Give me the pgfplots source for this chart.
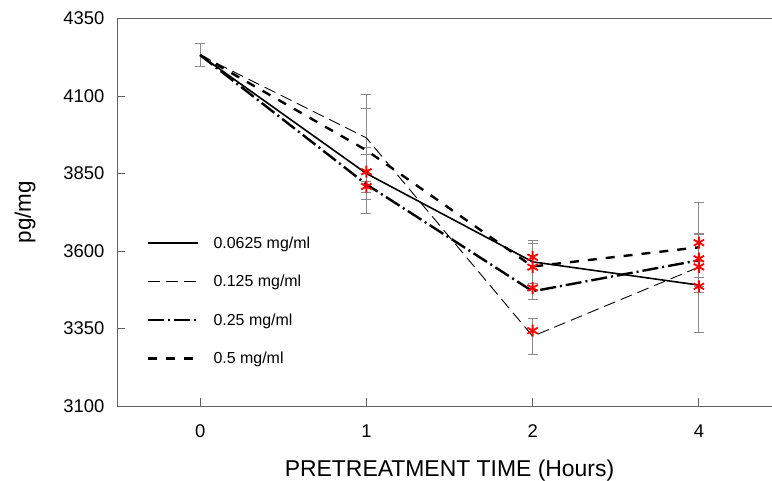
\documentclass[border=0pt]{standalone}
\usepackage{pgfplots}
\pgfplotsset{compat=1.18}
\usepackage{pgfplotstable}
\usepackage{fontspec}
\setmainfont{Liberation Sans}
\definecolor{spine}{HTML}{606060}
\definecolor{ebar}{HTML}{8A8A8A}

% x: 0,1,2,3 -> times 0,1,2,4 h
\pgfplotstableread{
x y e
0 4232 37
1 3850 83
2 3565 70
3 3490 25
}\sA
\pgfplotstableread{
x y e
0 4232 37
1 3965 139
2 3325 57
3 3548 210
}\sB
\pgfplotstableread{
x y e
0 4232 37
1 3815 95
2 3470 27
3 3570 84
}\sC
\pgfplotstableread{
x y e
0 4232 37
1 3925 136
2 3550 75
3 3612 45
}\sD
\pgfplotstableread{
x y
1 3856
1 3808
2 3580
2 3548
2 3481
2 3343
3 3627
3 3575
3 3549
3 3486
}\stars

\pgfplotsset{ebstyle/.style={forget plot, ebar, solid, line width=0.8pt, draw opacity=0,
  error bars/.cd, y dir=both, y explicit,
  error bar style={draw=ebar, draw opacity=1, solid, line width=0.8pt},
  error mark options={rotate=90, draw=ebar, draw opacity=1, solid, line width=0.8pt, mark size=5bp}}}

\begin{document}
\begin{tikzpicture}
\useasboundingbox (0,0) rectangle (772bp,481bp);
\clip (0,0) rectangle (772bp,481bp);
\begin{axis}[
  at={(117bp,75bp)}, anchor=south west,
  scale only axis, width=665bp, height=387.5bp,
  xmin=-0.5, xmax=3.5, ymin=3100, ymax=4350,
  xtick={0,1,2,3}, xticklabels={0,1,2,4},
  ytick={3100,3350,3600,3850,4100,4350},
  xtick pos=bottom, ytick pos=left,
  tick align=inside,
  major tick length=8bp,
  axis line style={spine, line width=0.9pt},
  tick style={spine, line width=0.9pt},
  /pgf/number format/assume math mode=true,
  /pgf/number format/1000 sep={},
  ticklabel style={font=\fontsize{18.5}{20}\selectfont},
  yticklabel style={xshift=-9bp},
  xticklabel style={yshift=-15bp},
  xlabel={PRETREATMENT TIME (Hours)},
  ylabel={pg/mg},
  xlabel style={font=\fontsize{23}{26}\selectfont, at={(rel axis cs:0.5,0)}, anchor=base, yshift=-70bp},
  ylabel style={font=\fontsize{22.5}{26}\selectfont, at={(rel axis cs:-0.1383,0.5)}, anchor=center},
  legend cell align=left,
  legend style={draw=none, fill=none, at={(rel axis cs:0.0451,0.443)}, anchor=north west,
    font=\fontsize{16}{18}\selectfont, row sep=21.5bp, inner sep=0pt,
    /tikz/every odd column/.append style={column sep=12bp}},
  legend image code/.code={\draw[#1] (0bp,0bp) -- (50bp,0bp);},
]
% error bars
\addplot[ebstyle] table[x=x, y=y, y error=e] {\sA};
\addplot[ebstyle] table[x=x, y=y, y error=e] {\sB};
\addplot[ebstyle] table[x=x, y=y, y error=e] {\sC};
\addplot[ebstyle] table[x=x, y=y, y error=e] {\sD};
\addplot[black, line width=1.6pt] table[x=x,y=y] {\sA};
\addlegendentry{0.0625 mg/ml}
\addplot[black, line width=0.9pt, dash pattern=on 12bp off 6bp] table[x=x,y=y] {\sB};
\addlegendentry{0.125 mg/ml}
\addplot[black, line width=2.4pt, dash pattern=on 16bp off 4bp on 2bp off 4bp] table[x=x,y=y] {\sC};
\addlegendentry{0.25 mg/ml}
\addplot[black, line width=2.4pt, dash pattern=on 9bp off 9bp] table[x=x,y=y] {\sD};
\addlegendentry{0.5 mg/ml}
\addplot[forget plot, only marks, mark=asterisk, red, mark size=6bp, mark options={line width=1.8pt}] table[x=x,y=y] {\stars};
\end{axis}
\end{tikzpicture}
\end{document}
